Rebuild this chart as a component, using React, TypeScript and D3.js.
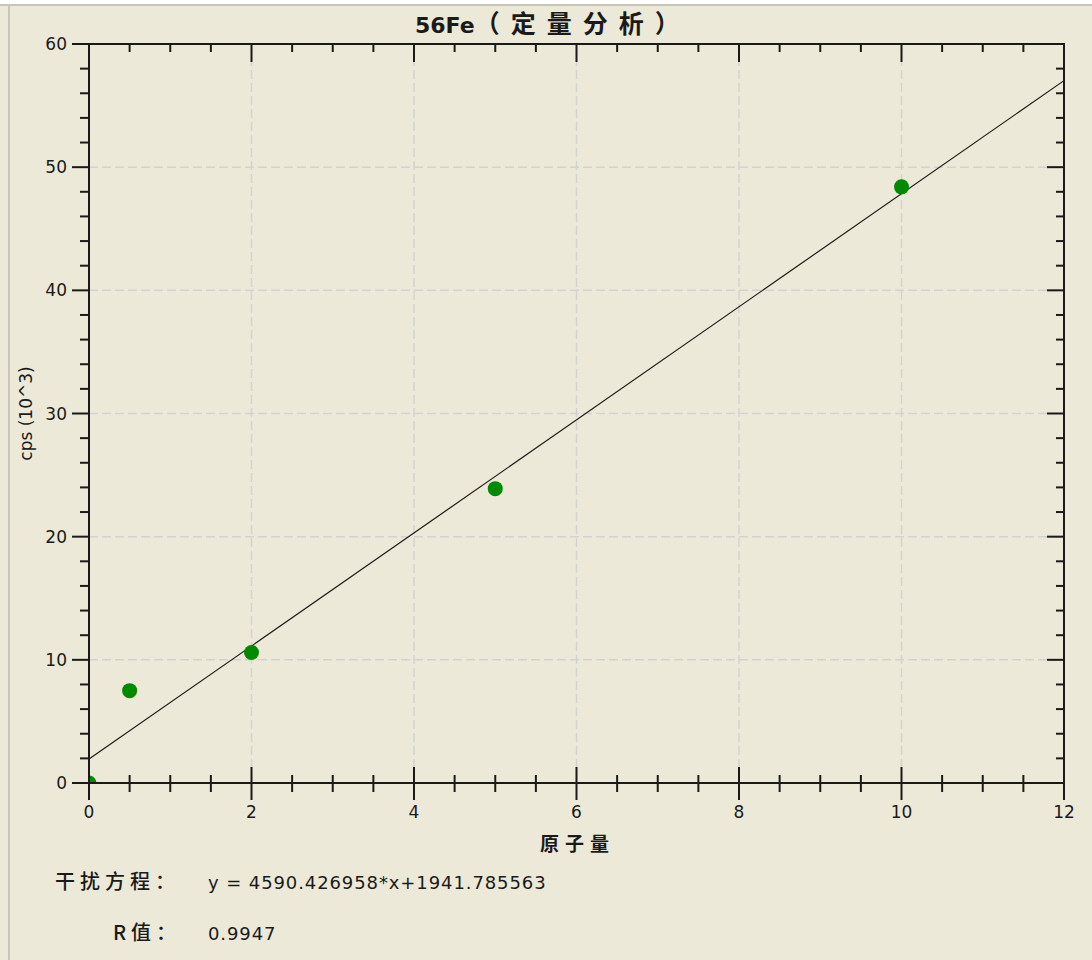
import React from "react";
import * as d3 from "d3";

const W = 1092;
const H = 960;

const title = "56Fe";
const titleCJK = "（定量分析）";
const xLabel = "原子量";
const yLabel = "cps (10^3)";
const eqLabel = "干扰方程：";
const eqText = "y = 4590.426958*x+1941.785563";
const rLabel = "R值：";
const rText = "0.9947";

const xs = [0, 0.5, 2, 5, 10];
const ys = [0, 7.5, 10.6, 23.9, 48.4];
const slope = 4590.426958 / 1000;
const intercept = 1941.785563 / 1000;

const xMajor = [0, 2, 4, 6, 8, 10, 12];
const yMajor = [0, 10, 20, 30, 40, 50, 60];

const BG = "#ECE9D8";
const INK = "#1a1a1a";
const GRID = "#D2D2D2";
const GREEN = "#008A00";
const FONT = "'DejaVu Sans', Verdana, sans-serif";
const CJK = "'Noto Sans CJK SC', sans-serif";

export default function App() {
  const L = 89, R = 1064, T = 44, B = 783;
  const x = d3.scaleLinear().domain([0, 12]).range([L, R]);
  const y = d3.scaleLinear().domain([0, 60]).range([B, T]);
  const xMinor = d3.range(0, 12.001, 0.5).filter((v) => Math.abs(v % 2) > 1e-9);
  const yMinor = d3.range(0, 60.001, 2).filter((v) => Math.abs(v % 10) > 1e-9);
  const line = d3.line<number>().x((v) => x(v)).y((v) => y(slope * v + intercept));

  return (
    <svg width={W} height={H} style={{ position: "absolute", left: 0, top: 0, display: "block" }}>
      <rect x={0} y={0} width={W} height={H} fill={BG} />
      <rect x={0} y={0} width={W} height={4} fill="#FFFFFF" />
      <line x1={0} x2={W} y1={5} y2={5} stroke="#C9C5B8" strokeWidth={2} />
      <line x1={9} x2={9} y1={5} y2={H} stroke="#C9C5B8" strokeWidth={2} />
      <defs>
        <clipPath id="plot">
          <rect x={L} y={T} width={R - L} height={B - T} />
        </clipPath>
      </defs>
      {/* grid */}
      {xMajor.filter((v) => v > 0 && v < 12).map((v) => (
        <line key={"gx" + v} x1={x(v)} x2={x(v)} y1={T} y2={B} stroke={GRID} strokeWidth={1.5} strokeDasharray="9,4" />
      ))}
      {yMajor.filter((v) => v > 0 && v < 60).map((v) => (
        <line key={"gy" + v} x1={L} x2={R} y1={y(v)} y2={y(v)} stroke={GRID} strokeWidth={1.5} strokeDasharray="9,4" />
      ))}
      {/* fit line */}
      <path d={line([0, 12]) || ""} stroke={INK} strokeWidth={1.2} fill="none" clipPath="url(#plot)" />
      {/* points */}
      <g clipPath="url(#plot)">
        {xs.map((v, i) => (
          <circle key={"p" + i} cx={x(v)} cy={y(ys[i])} r={7.5} fill={GREEN} />
        ))}
      </g>
      {/* axes frame */}
      <rect x={L} y={T} width={R - L} height={B - T} fill="none" stroke={INK} strokeWidth={2} />
      {/* bottom ticks */}
      {xMajor.map((v) => (
        <line key={"bx" + v} x1={x(v)} x2={x(v)} y1={B - 16} y2={B + 17} stroke={INK} strokeWidth={2} />
      ))}
      {xMinor.map((v) => (
        <line key={"bm" + v} x1={x(v)} x2={x(v)} y1={B - 8} y2={B + 9} stroke={INK} strokeWidth={2} />
      ))}
      {/* top ticks */}
      {xMajor.map((v) => (
        <line key={"tx" + v} x1={x(v)} x2={x(v)} y1={T} y2={T + 18} stroke={INK} strokeWidth={2} />
      ))}
      {xMinor.map((v) => (
        <line key={"tm" + v} x1={x(v)} x2={x(v)} y1={T} y2={T + 8} stroke={INK} strokeWidth={2} />
      ))}
      {/* left ticks */}
      {yMajor.map((v) => (
        <line key={"ly" + v} x1={L - 17} x2={L} y1={y(v)} y2={y(v)} stroke={INK} strokeWidth={2} />
      ))}
      {yMinor.map((v) => (
        <line key={"lm" + v} x1={L - 9} x2={L} y1={y(v)} y2={y(v)} stroke={INK} strokeWidth={2} />
      ))}
      {/* right ticks */}
      {yMajor.map((v) => (
        <line key={"ry" + v} x1={R - 17} x2={R} y1={y(v)} y2={y(v)} stroke={INK} strokeWidth={2} />
      ))}
      {yMinor.map((v) => (
        <line key={"rm" + v} x1={R - 8} x2={R} y1={y(v)} y2={y(v)} stroke={INK} strokeWidth={2} />
      ))}
      {/* tick labels */}
      {yMajor.map((v) => (
        <text key={"yl" + v} x={67} y={y(v)} dy="0.36em" textAnchor="end" fontFamily={FONT} fontSize={17} fill={INK}>
          {v}
        </text>
      ))}
      {xMajor.map((v) => (
        <text key={"xl" + v} x={x(v)} y={818} textAnchor="middle" fontFamily={FONT} fontSize={17} fill={INK}>
          {v}
        </text>
      ))}
      {/* title */}
      <text x={415} y={33} fontFamily={FONT} fontSize={22} fontWeight="bold" fill={INK}>
        <tspan>{title}</tspan>
        <tspan fontFamily={CJK} fontSize={25} letterSpacing={11}>{titleCJK}</tspan>
      </text>
      {/* axis labels */}
      <text x={(L + R) / 2 + 1} y={851} textAnchor="middle" fontFamily={CJK} fontSize={19} fontWeight="bold" letterSpacing={6} fill={INK}>
        {xLabel}
      </text>
      <text transform={`translate(32,${(T + B) / 2}) rotate(-90)`} textAnchor="middle" fontFamily={FONT} fontSize={17} fill={INK}>
        {yLabel}
      </text>
      {/* footer */}
      <text x={55} y={889} fontFamily={CJK} fontSize={20} fontWeight="500" letterSpacing={5} fill={INK}>{eqLabel}</text>
      <text x={208} y={889} fontFamily={FONT} fontSize={18} letterSpacing={0.9} fill={INK}>{eqText}</text>
      <text x={113} y={940} fontFamily={CJK} fontSize={20} fontWeight="500" letterSpacing={5} fill={INK}>{rLabel}</text>
      <text x={208} y={940} fontFamily={FONT} fontSize={18} letterSpacing={0.9} fill={INK}>{rText}</text>
    </svg>
  );
}
